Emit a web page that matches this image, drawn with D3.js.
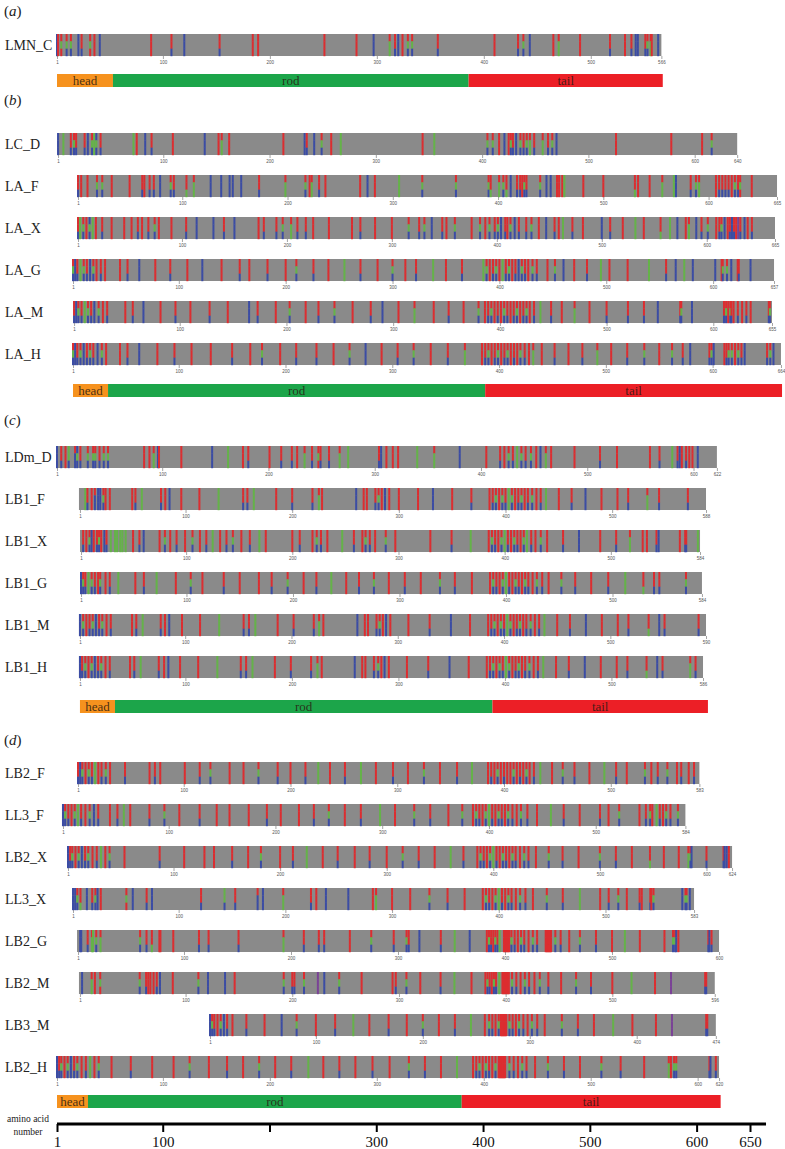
<!DOCTYPE html>
<meta charset="utf-8">
<style>
body { margin: 0; background: #fff; }
svg text { font-family: "Liberation Serif", "DejaVu Serif", serif; }
.row-axis text { font-family: "Liberation Sans", sans-serif; font-size: 4.5px; fill: #555; }
.row-axis line { stroke: #666; stroke-width: 0.6; }
.row-axis path { display: none; }
.aa-axis path { display: none; }
.aa-axis line { stroke: #000; stroke-width: 2; }
.aa-axis text { font-family: "Liberation Serif", serif; font-size: 15px; fill: #111; }
</style>
<body></body>
<script src="https://d3js.org/d3.v7.min.js"></script>
<script>
// panels and rows
var panelLetters = ["a", "b", "c", "d"];
var rowNames = ["LMN_C",
  "LC_D", "LA_F", "LA_X", "LA_G", "LA_M", "LA_H",
  "LDm_D", "LB1_F", "LB1_X", "LB1_G", "LB1_M", "LB1_H",
  "LB2_F", "LL3_F", "LB2_X", "LL3_X", "LB2_G", "LB2_M", "LB3_M", "LB2_H"];
var rowPanel = [0, 1, 1, 1, 1, 1, 1, 2, 2, 2, 2, 2, 2, 3, 3, 3, 3, 3, 3, 3, 3];
var rowLengths = [566, 640, 665, 665, 657, 655, 664, 622, 588, 584, 584, 590, 586, 583, 584, 624, 583, 600, 596, 474, 620];
// where residue 1 and the last residue sit on the common amino acid axis
var alignStart = [1, 2, 20.7, 20.7, 16, 17, 16, 1, 22.5, 23.5, 23.5, 22.5, 22.5, 20.7, 6.6, 11.3, 16, 20.7, 22.5, 144.3, 1];
var alignEnd = [567, 638, 675.3, 673.4, 672.5, 670.6, 679, 619, 608.8, 603.2, 605, 608.8, 606, 602.6, 589.5, 633.2, 597.6, 621, 617, 618, 621];

// coloured residues: position + colour of top / middle / bottom third (one letter = whole stripe)
var rowMarks = [
  "1b 2r 5rgr 10rgb 14rgb 21b 24rrb 32rgr 36r 41b 89r 108rrb 120b 153rrb 184r 189r 251r 281r 297b 312rgg 317rrb 320b 324r 329rgb 333rgb 357rrb 410r 432rrb 437rgb 443b 465r 470rgg 490r 518rrb 532r 538rrb 542b 544b 551rrb 553rgb 556rgg 557r 563b",
  "1b 6g 13rrb 16rgb 18rrb 26rrb 29b 33rgb 35g 37bgb 41rrb 72g 75r 83b 89rrb 109r 139b 152r 155rgg 162r 213r 233b 235rrb 242b 249rgb 258r 267g 344r 355g 405rgb 410rgb 416r 421b 425r 427rgb 429rrb 432b 436rgb 439rrb 442rgb 445rgg 449rrb 457rgg 462rrb 466rgb 470b 526r 578r 607r 616rgb",
  "1rrb 4r 10r 19rgb 24rgb 33r 50r 62rrb 64r 69rrb 73rrb 79b 89rgb 92rrb 104rrg 111rgg 127b 137b 145b 148b 156b 173rrb 198rgg 217rgb 221r 223rgg 230rrb 236r 269r 276b 283r 306g 328rgb 360rgb 391rgb 393rrg 401rgg 405rgb 408rrg 412b 418rrb 421rrb 423r 425rgb 427rrb 440rgb 446b 450b 456r 458r 461r 463g 481r 500r 530rrg 533r 544r 556rgg 567g 569b 583rrb 588rgb 591rgg 607r 610rrb 613rrb 616rrb 619rrb 622r 625rgb 628rrb 630rgr 641r",
  "1rrb 3g 6rgb 9r 12bgb 15g 18r 24rrb 33r 45r 52r 58rrb 62r 68rrb 74rgb 78r 90r 104rrb 114b 130b 140rrb 150b 173r 178rrb 190rrb 196rgb 204rgg 210rrb 218rrb 225r 240r 262r 270rrb 284r 300r 316rgb 326rrb 331rgb 338b 348rrb 352r 360rgb 376r 384rgb 389r 393rgb 398rrb 401rgb 404b 408rrb 410r 413rgb 417b 421rrb 428rrb 433rgb 440r 447b 455rrb 459r 463g 472rrb 482r 500b 508rrb 520r 532g 540r 556rrg 565g 572b 580r 583rgg 590b 595rrb 601rgb 609r 612rrb 614rgb 617b 620r 622rrb 624b 626rrb 628r 630p 632rrb 636b 639r 643rrb",
  "1rgb 3b 5rrb 8g 11rgb 14rrb 17b 20rgb 23r 27rrb 31r 45r 52rrb 63b 78r 92rrb 108r 122b 140r 157rrb 166r 183rrb 200r 210rgb 226rrb 240r 255g 270rrb 286r 300rgb 312r 322rrb 338g 350r 365rrb 385g 388rgb 391r 394rrb 397rgb 400r 403g 406rrb 409rgb 412r 415rrb 418b 421rgb 424rrb 427r 431rgb 435rrb 445r 452rgb 460b 470r 482rrb 495g 503r 520r 540g 556rrb 565b 573g 581b 602b 608r 609rgb 613rgb 617b 623r 624rrb 635b",
  "1rrb 3b 5rgb 8rrb 11g 14rgb 17rrb 20b 24rgb 28r 32rrb 49r 56rrb 66b 82r 96rrb 110r 128rrb 145r 165b 173rrb 190r 203rgb 218r 230rrb 245rgb 262r 279rrb 290b 305r 320rgg 338r 352rrb 366r 380rgb 386r 389rrb 392rgb 395r 398rrb 401r 404rgb 407rrb 410r 413rrb 416rgb 419r 422rrb 425rgb 428r 432rrb 438g 448rrb 458r 470rgg 484r 500rrb 520rrb 535rrb 548b 569rrb 570rgb 580b 610rrb 612rgb 614r 616rgb 617rrb 619r 623rrb 627r 631rrb 635r 652rrb 653rgb",
  "1rgb 3b 5rrb 8rgb 11b 14rrb 17rgb 20rrb 24b 28rgb 32r 45r 52rrb 63b 80r 96rrb 112r 130r 150rrb 167r 178rgb 195r 210rrb 229rrb 245r 260rgb 275b 290r 305rrb 320rgb 336r 352rrb 368rgg 384r 387rrb 390rgb 393r 396rrb 399rgb 402r 405rrb 408rgb 411r 414rrb 417r 420rgb 424rrb 428r 432rgg 440r 452rrb 465r 478rrb 492rgg 505r 520rrb 536rgb 550r 562rgb 572rrb 579b 597rrb 599rgb 601b 611r 613rrb 615rgb 618rgb 621r 624rgb 627rrb 630b 651rrb 654rgb 657b",
  "1b 5rrb 9r 12ggb 18rbb 20bgb 23rrb 30rgb 35rgb 37rgb 41rrb 45rgb 49rgb 83r 88r 92rgg 96b 97r 118r 147b 162g 176r 181rrb 201r 212rrb 222rrb 227r 234rgg 241rrb 247rgr 249rrb 257rrb 267rgg 275g 304rrb 306b 311r 317r 322r 340g 356rgg 380b 405r 418rrb 422r 426rgb 430rrb 434g 438rgb 442rrb 447rgb 452r 456b 461rgg 466r 488r 512rrb 528r 559r 568rrb 580g 585rrb 587b 589r 593rrb 596r 599r 604b",
  "6g 8rrb 12r 15rbb 18b 20b 23rgb 25r 29r 50r 53rrb 59g 77rrb 81r 85b 96r 113r 131g 154rrb 158rrb 164g 185r 200rrb 219rrb 225rgg 228r 260b 267r 270r 278rrb 281rgb 284r 287b 291r 300r 318r 332b 350r 368rrb 385r 388rrb 391rgb 394r 397rgb 400rrb 403g 406rgb 409r 412rrb 415rgb 418r 421rrb 425rgb 429r 433rrb 438g 450r 462rrb 475b 490r 505r 515rrb 533rgg 544rrb 571rrb",
  "3rrb 6r 9rgb 11b 13r 16rrb 18rgb 20r 23b 25rrb 29g 33g 35g 38g 40g 43g 50r 56rrb 60b 75r 80rgb 85r 91rrb 99r 106rgb 113r 119rrb 125g 132r 138rrb 144rgb 152r 160rrb 169g 175r 200r 207rrb 219r 223rgb 227rrb 233r 247g 258rrb 266r 269rgb 273rrb 278r 288rgb 297r 330r 350rrb 368g 385r 388rgb 391rrb 394r 397rgb 400g 403rrb 406r 409rgb 412rrb 415r 418rgb 421g 425rrb 429r 434rgb 440r 455rrb 470b 490r 505rrb 518rgg 530r 534r 543rrb 545b 565r 570rrb 571rrb 582g",
  "1b 3rgb 5rrb 8g 11rgb 14rrb 17r 19rgb 24r 28rrb 36g 52r 60rrb 72g 90r 104rgb 115r 135rrb 150r 168r 180rrb 195rgb 210r 222rrb 236g 250r 262rrb 276rgb 290r 305rrb 320r 338rgb 352rrb 368r 385r 388rgb 391rrb 394r 397rgb 400g 403rrb 406r 409rgb 412rrb 415r 418rgb 421rrb 425r 429rgb 434rrb 440r 452rgb 465rrb 480r 496rrb 512g 529rrg 539rrb 544rrb 569rgb",
  "1b 4rgb 7r 10rrb 13rgb 16b 19rrb 22rgb 26r 30rrb 50r 54rrb 60g 77rrb 81r 85b 97r 114r 132g 155rrb 160rrb 166g 187r 202rrb 221rrb 226rgg 230r 262b 269r 272r 280rrb 283rgb 286r 289b 293r 310r 330rrb 350b 368r 385r 388rrb 391rgb 394r 397rgb 400rrb 403g 406rgb 409r 412rrb 415rgb 418r 421rrb 425rgb 429r 433rrb 438g 450r 462rrb 477b 492r 507r 517rrb 536rrg 546b 551rrb 583rrb",
  "1b 3rrb 6rgb 9r 12rgb 15b 18rrb 21rgb 25r 29rrb 48r 52rrb 58g 75rrb 80r 84b 95r 112r 130g 152rrb 157rrb 163g 184r 199rrb 218rrb 224rgg 228r 259b 266r 269r 277rrb 281rgb 284r 287b 291r 308r 328rrb 348b 366r 383r 386rrb 389rgb 392r 395rgb 398rrb 401g 404rgb 407r 410rrb 413rgb 416r 419rrb 423rgb 427r 431rrb 436g 448r 460rrb 475b 490r 505r 515rrb 533rrg 543b 548rrb 574rgg 579rrb",
  "1rrb 3b 5rgb 8r 11rgb 14rrb 17g 20r 23rrb 27rgb 31r 45rrb 68r 73rrb 78r 101r 115rrb 125rgb 143r 156r 170rgb 188rrb 200r 214rrb 226g 237r 251rrb 266g 280r 296rrb 310r 325rgb 340r 356rrb 370g 385r 388rrb 391r 394rgb 397r 400rrb 403r 406r 409rgb 412r 415rrb 418r 421rgb 424r 428rrb 434g 445r 455rgb 466rrb 480r 494g 505rrb 515r 532rgb 538r 544rrb 553rgb 562r 566rrb 573r 578rrb",
  "1b 3rgb 6rrb 9r 12rgb 15g 18rrb 22r 26rgb 30b 34rrb 45r 52rrb 58g 64r 82rrb 96rgb 110r 129rrb 145r 157r 175r 192rrb 205r 222r 236rrb 250rgb 265r 280rrb 298g 312r 330rgb 345rrb 362r 375rgb 385r 388rgb 391rrb 394r 397rgb 400g 403rrb 406r 409rgb 412rrb 415r 418rgb 422rrb 426r 430rgb 436rrb 445r 458g 470rrb 485r 504rrb 512r 522rgb 541r 547rrb 551rgb 553r 557g 560rrb 563r 566rgb 570rrb 577rgb",
  "1b 3rrb 5rgb 8r 11rgb 14b 17rrb 20rgb 24r 28rrb 32g 36r 40rgb 54r 87rrb 110r 129r 138r 155rrb 170r 182rgb 200r 212rrb 225g 240r 254rrb 270r 284rrb 300r 315rgb 330rrb 345r 360g 372rrb 385r 388rgb 391rrb 394r 397rgb 400g 403rrb 406r 409rgb 412rrb 415r 418rgb 421rrb 425r 429rgb 433rrb 440r 452rgb 465rrb 480r 500rgb 515rrb 530r 547rrg 560r 574r 583rgg 585rgb 586b 600rrb 616rrb 617b 619b 621r",
  "1b 3b 5rgb 8rrg 14b 19rrb 22rgb 24b 27r 51rgr 57b 70rrb 75b 121rrb 143ggb 153rrb 174rbb 179b 198rgg 224rrb 229r 238b 259b 282r 285rgg 300r 317r 335rgb 352rrb 368r 385r 388rgb 391rrb 394r 397rgb 400g 403rrb 406r 409rgb 412rrb 416r 420rgb 425rrb 432r 445rgb 460rrb 476g 495r 503rrb 512rgb 520r 532rrb 534r 542rrb 543r 545rgb 572b 575rgb 576rgb 579b",
  "3b 4b 10rrb 14rgg 15g 18rgb 22rgg 59rgb 65rrb 70rrg 77r 78r 90r 114rrb 123rrb 151rrb 193rgg 212rrb 226rrb 231rrb 255r 275rgb 296rrb 308rgb 310rrb 320b 340rrb 353g 367b 383r 385rgb 387rrb 389r 391rgb 393rrb 395g 399r 400r 401r 402r 403r 404r 406rgb 409rrb 412r 415rgb 418rrb 422r 426rgb 430rrb 438r 439r 440r 441r 442r 443r 447rgb 452rrb 460r 470rgb 485rrb 500r 512g 526r 549r 557rgb 559rgb 560b 562r 590rrb 591b 593rrb",
  "3b 12rgg 15r 20rgr 57rgb 63rrb 65r 67r 70r 73rrb 76b 88r 112rgb 121b 137b 146r 192rgb 200rrb 202rrb 211rgb 224p 230b 244rgb 265r 294r 297rrb 307rgb 320r 339rrb 352g 368r 381r 383rgb 385rrb 387r 389rgb 391rrb 394g 397r 398r 399r 400r 401r 402r 403r 406rgb 410rrb 414r 418rgb 422rrb 427r 432rgb 440rrb 452r 466rgb 480rrb 500r 518g 540r 555p 587rrb 588rrb",
  "1b 3rgb 5rrb 8r 11rgb 14b 17rrb 22r 35rrb 52r 68b 82rgb 100r 118rrb 135g 150r 168rrb 185r 200rgb 215r 230rrb 245g 258r 262rgb 265rrb 268r 271rgb 273r 274r 275r 276r 277r 278r 281rgb 284rrb 287r 290rgb 294rrb 298r 302rgb 307rrb 314r 330rgb 345rrb 360r 378g 396r 418r 433p 465rrb 466rrb",
  "1b 3rrb 5rgb 8r 11rgb 14b 17rrb 20rgb 24r 28rrb 32g 36r 40rgb 52r 70rrb 90r 110r 125rgb 143r 160rrb 175r 190rgb 205r 220rrb 236g 250r 265rrb 280r 296rrb 312r 330rgb 345rrb 360r 375g 390r 393rrb 396rgb 399r 402rgb 405rrb 408r 411rgb 414r 415r 416r 417r 418r 419r 420r 424rgb 428rrb 432r 436rgb 440rrb 448r 460rgb 475rrb 490r 510rgb 528rrb 550r 573rgg 575r 578rgb 580rgb 611rrb 612b 617rrb"
];

// head / rod / tail boundaries per panel, on the common axis
var domainNames = ["head", "rod", "tail"];
var domainBounds = [[1, 53.4, 386.5, 568.3], [16, 48.8, 402, 680], [22.5, 55.3, 408.8, 610.6], [1, 30, 380, 622.5]];

var axisTicks = [1, 100, 200, 300, 400, 500, 600, 650];
var axisLabelled = [1, 100, 300, 400, 500, 600, 650];

var colors = { r: "#dc2d30", g: "#64b348", b: "#3b4ca4", p: "#7a4296" };
var domainColors = ["#f6921e", "#1ca54a", "#ec1f26"];

// layout
var panelTop = [34, 133, 446, 762];
var panelLabelY = [16, 105, 425, 745];
var domainGap = [40, 41, 44, 39];
var rowPitch = 42, barH = 22, domH = 13;
var serif = "Liberation Serif, DejaVu Serif, serif";

var svg = d3.select("body").append("svg")
    .attr("width", 785)
    .attr("height", 1149);

var gx = d3.scaleLinear().domain([1, 650]).range([57, 750]);

function parseMarks(s) {
  return s.trim().split(/\s+/).map(function(t) {
    var m = t.match(/^(\d+)([rgbp]+)$/);
    var c = m[2].length == 1 ? m[2] + m[2] + m[2] : m[2];
    return { pos: +m[1], code: c };
  });
}

// panel letters
svg.selectAll("text.plabel")
  .data(panelLetters)
  .join("text")
    .attr("class", "plabel")
    .attr("x", 4)
    .attr("y", function(d, i) { return panelLabelY[i]; })
    .attr("font-family", serif)
    .attr("font-size", 15)
    .attr("fill", "#222")
    .each(function(d) {
      var t = d3.select(this);
      t.append("tspan").text("(");
      t.append("tspan").attr("font-style", "italic").text(d);
      t.append("tspan").text(")");
    });

var rowCount = [0, 0, 0, 0];

rowNames.forEach(function(name, i) {
  var p = rowPanel[i];
  var y = panelTop[p] + rowCount[p] * rowPitch;
  rowCount[p]++;
  var len = rowLengths[i];
  var x = d3.scaleLinear().domain([1, len]).range([gx(alignStart[i]), gx(alignEnd[i])]);

  var g = svg.append("g").attr("transform", "translate(0," + y + ")");

  g.append("text")
    .attr("x", 5)
    .attr("y", barH / 2 + 5)
    .attr("font-family", serif)
    .attr("font-size", 14)
    .attr("fill", "#222")
    .text(name);

  g.append("rect")
    .attr("x", x(1) - 1)
    .attr("y", 0)
    .attr("width", x(len) - x(1) + 1)
    .attr("height", barH)
    .attr("fill", "#8a8a8a");

  var segs = [];
  parseMarks(rowMarks[i]).forEach(function(m) {
    m.code.split("").forEach(function(c, k) { segs.push({ pos: m.pos, c: c, k: k }); });
  });

  g.selectAll("rect.seg")
    .data(segs)
    .join("rect")
      .attr("class", "seg")
      .attr("x", function(d) { return x(d.pos) - 1; })
      .attr("y", function(d) { return d.k * barH / 3; })
      .attr("width", 2)
      .attr("height", barH / 3 + 0.2)
      .attr("fill", function(d) { return colors[d.c]; });

  var tv = [1].concat(d3.range(100, len, 100)).concat([len]);
  g.append("g")
    .attr("class", "row-axis")
    .attr("transform", "translate(0," + barH + ")")
    .call(d3.axisBottom(x).tickValues(tv).tickSize(3).tickPadding(1.5).tickFormat(d3.format("d")));
});

// head / rod / tail bars
domainBounds.forEach(function(b, p) {
  var y = panelTop[p] + (rowCount[p] - 1) * rowPitch + domainGap[p];
  var g = svg.append("g").attr("transform", "translate(0," + y + ")");
  var segs = domainNames.map(function(n, k) { return { name: n, a: b[k], b: b[k + 1], k: k }; });
  g.selectAll("rect")
    .data(segs)
    .join("rect")
      .attr("x", function(d) { return gx(d.a); })
      .attr("width", function(d) { return gx(d.b) - gx(d.a); })
      .attr("height", domH)
      .attr("fill", function(d) { return domainColors[d.k]; });
  g.selectAll("text")
    .data(segs)
    .join("text")
      .attr("x", function(d) { return (gx(d.a) + gx(d.b)) / 2; })
      .attr("y", domH / 2 + 4.3)
      .attr("text-anchor", "middle")
      .attr("font-family", serif)
      .attr("font-size", 13)
      .attr("fill", "#2a1a12")
      .attr("fill-opacity", 0.85)
      .text(function(d) { return d.name; });
});

// amino acid number axis
var axisY = 1124;
svg.append("line")
  .attr("x1", gx(1))
  .attr("x2", gx(665))
  .attr("y1", axisY)
  .attr("y2", axisY)
  .attr("stroke", "#000")
  .attr("stroke-width", 3);

svg.append("g")
  .attr("class", "aa-axis")
  .attr("transform", "translate(0," + axisY + ")")
  .call(d3.axisBottom(gx).tickValues(axisTicks).tickSize(8).tickPadding(4)
    .tickFormat(function(d) { return axisLabelled.indexOf(d) >= 0 ? d : ""; }));

svg.append("text")
  .attr("x", 28)
  .attr("y", 1122)
  .attr("text-anchor", "middle")
  .attr("font-family", serif)
  .attr("font-size", 9.5)
  .attr("fill", "#222")
  .text("amino acid");
svg.append("text")
  .attr("x", 28)
  .attr("y", 1135)
  .attr("text-anchor", "middle")
  .attr("font-family", serif)
  .attr("font-size", 9.5)
  .attr("fill", "#222")
  .text("number");
</script>
